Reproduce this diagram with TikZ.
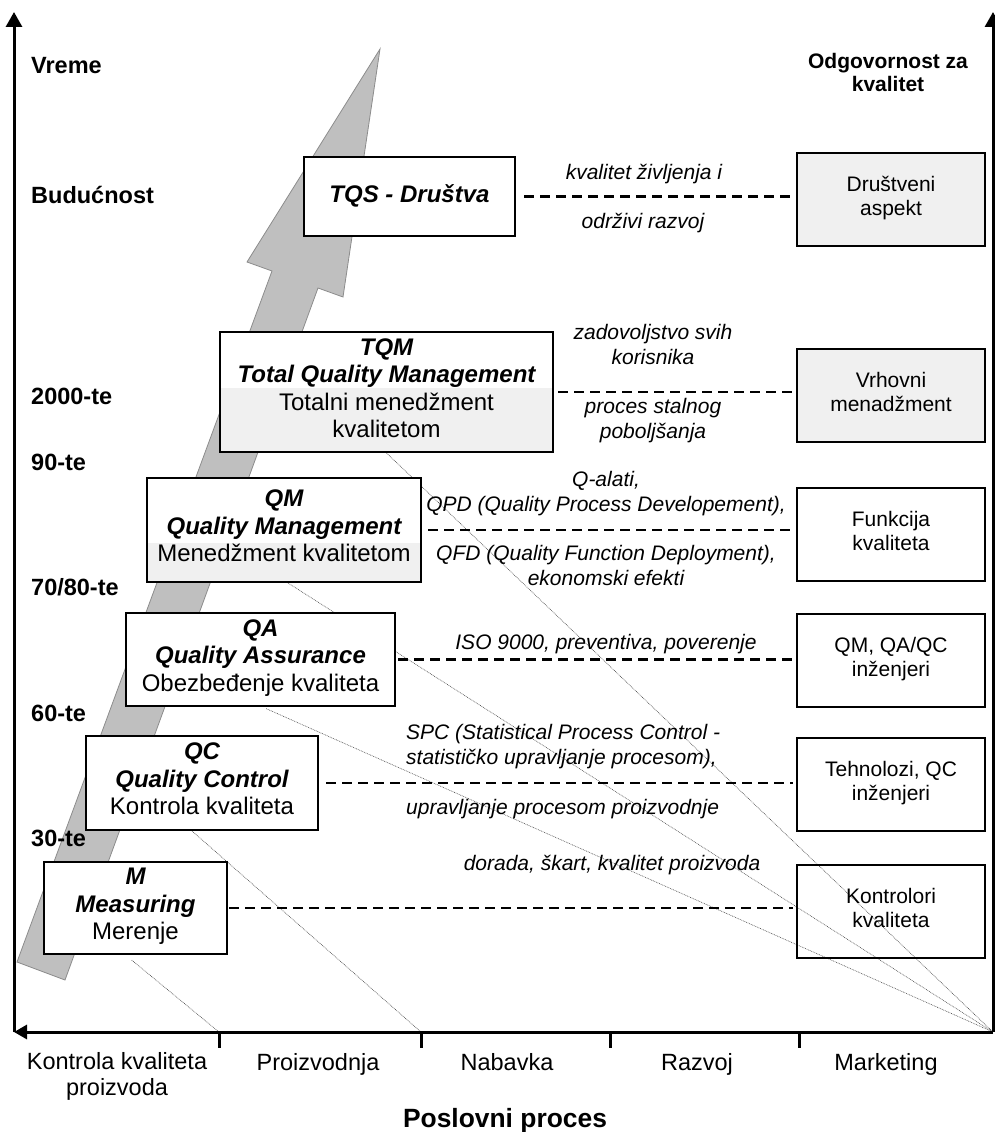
\documentclass[tikz,border=0pt]{standalone}
\usepackage{fontspec}
\setmainfont{Liberation Sans}
\usetikzlibrary{arrows.meta,backgrounds}

\definecolor{bandfill}{gray}{0.75}
\definecolor{banddraw}{gray}{0.55}
\definecolor{softfill}{gray}{0.94}
\definecolor{guide}{gray}{0.3}

\newcommand\eratitle[1]{{\bfseries\itshape #1}}

\tikzset{
  strutted/.style={execute at begin node=\strut, execute at end node=\strut},
  era/.style={draw, line width=2pt, fill=white, align=center, inner sep=0pt,
    font=\fontsize{24}{27.5}\selectfont, strutted},
  resp/.style={draw, line width=2pt, align=center, inner sep=0pt,
    minimum width=188pt, minimum height=93pt,
    font=\fontsize{21}{24}\selectfont, strutted},
  note/.style={align=center, inner sep=0pt,
    font=\fontsize{21}{25}\selectfont\itshape, strutted},
  year/.style={anchor=west, inner sep=0pt,
    font=\fontsize{23.5}{28}\selectfont\bfseries, strutted},
  proc/.style={align=center, inner sep=0pt,
    font=\fontsize{23.5}{26}\selectfont, strutted},
  link/.style={dash pattern=on 10pt off 6pt, line width=2.2pt, shorten >=3pt},
  guideline/.style={guide, line width=0.6pt, dash pattern=on 0.8pt off 0.9pt},
  axis/.style={line width=3pt},
  lower fill/.style={path picture={\fill[softfill]
    (path picture bounding box.south west) rectangle
    ([yshift=#1]path picture bounding box.south east);}},
}

\begin{document}
\begin{tikzpicture}[x=1pt,y=-1pt]
\useasboundingbox (0,0) rectangle (995,1132);

% axes
\coordinate (o) at (14,1032);
\coordinate (ytop) at (14,12);
\coordinate (cr) at (993,1032);
\coordinate (crtop) at (993,12);
\draw[axis, -{Triangle[length=15pt,width=16pt]}] (o) -- (ytop);
\draw[axis, -{Triangle[length=15pt,width=16pt]}] (cr) -- (crtop);
\draw[axis, -{Triangle[length=13pt,width=14pt]}] (cr) -- (o);
\foreach \x [count=\i] in {219,421,610,799} {
  \coordinate (t\i) at (\x,1032);
  \draw[axis] (t\i) -- ++(0,16);
}

% time labels
\node[year] (yv) at (31,68) {Vreme};
\node[year] (yb) at (31,198) {Budućnost};
\node[year] (y2000) at (31,399) {2000-te};
\node[year] (y90) at (31,465) {90-te};
\node[year] (y7080) at (31,590) {70/80-te};
\node[year] (y60) at (31,716) {60-te};
\node[year] (y30) at (31,841) {30-te};

\node[align=center, inner sep=0pt, font=\fontsize{21}{23}\selectfont\bfseries, strutted]
  (hdr) at (888,76) {Odgovornost za\\kvalitet};

% business process labels
\node[proc] (p1) at (117,1078) {Kontrola kvaliteta\\proizvoda};
\node[proc] (p2) at (318,1065) {Proizvodnja};
\node[proc] (p3) at (507,1065) {Nabavka};
\node[proc] (p4) at (697,1065) {Razvoj};
\node[proc] (p5) at (886,1065) {Marketing};
\node[inner sep=0pt, font=\fontsize{26.4}{30}\selectfont\bfseries, strutted]
  (bp) at (505,1121.5) {Poslovni proces};

% stages of quality development
\node[era, minimum width=211pt, minimum height=79pt] (tqs) at (409.5,196.5)
  {\eratitle{TQS - Društva}};
\node[era, lower fill=64pt, minimum width=333pt, minimum height=120pt] (tqm) at (386.5,392)
  {\eratitle{TQM}\\\eratitle{Total Quality Management}\\Totalni menedžment\\kvalitetom};
\node[era, lower fill=39pt, minimum width=274pt, minimum height=104pt] (qm) at (284,530)
  {\eratitle{QM}\\\eratitle{Quality Management}\\Menedžment kvalitetom};
\node[era, minimum width=269pt, minimum height=93pt] (qa) at (260.5,659.5)
  {\eratitle{QA}\\\eratitle{Quality Assurance}\\Obezbeđenje kvaliteta};
\node[era, minimum width=232pt, minimum height=94pt] (qc) at (202,783)
  {\eratitle{QC}\\\eratitle{Quality Control}\\Kontrola kvaliteta};
\node[era, minimum width=183pt, minimum height=92pt] (m) at (135.5,908)
  {\eratitle{M}\\\eratitle{Measuring}\\Merenje};

% responsibility for quality
\node[resp, fill=softfill] (soc) at (891,199) {Društveni\\aspekt};
\node[resp, fill=softfill] (topm) at (891,395.5) {Vrhovni\\menadžment};
\node[resp] (func) at (891,534) {Funkcija\\kvaliteta};
\node[resp] (eng) at (891,660.5) {QM, QA/QC\\inženjeri};
\node[resp] (tech) at (891,784.5) {Tehnolozi, QC\\inženjeri};
\node[resp] (insp) at (891,911.5) {Kontrolori\\kvaliteta};

% links between stage and responsibility
\draw[link] ([xshift=8pt]tqs.east) -- (tqs.east -| soc.west);
\draw[link] ([xshift=4pt]tqm.east) -- (tqm.east -| topm.west);
\draw[link] ([xshift=6pt]qm.east) -- (qm.east -| func.west);
\draw[link] ([xshift=2pt]qa.east) -- (qa.east -| eng.west);
\draw[link] ([xshift=7pt]qc.east) -- (qc.east -| tech.west);
\draw[link] ([xshift=1pt]m.east) -- (m.east -| insp.west);

% link labels
\node[note] (n1) at (644,174.5) {kvalitet življenja i};
\node[note] (n2) at (643,223.5) {održivi razvoj};
\node[note] (n3) at (653,348) {zadovoljstvo svih\\korisnika};
\node[note] (n4) at (653,422.5) {proces stalnog\\poboljšanja};
\node[note] (n5) at (606,495.5) {Q-alati,\\QPD (Quality Process Developement),};
\node[note] (n6) at (606,569) {QFD (Quality Function Deployment),\\ekonomski efekti};
\node[note] (n7) at (606,644.5) {ISO 9000, preventiva, poverenje};
\node[note, align=left, anchor=west] (n8) at (406,748)
  {SPC (Statistical Process Control -\\statističko upravljanje procesom),};
\node[note, anchor=west] (n9) at (406,809.5) {upravljanje procesom proizvodnje};
\node[note] (n10) at (612,865.5) {dorada, škart, kvalitet proizvoda};

\begin{scope}[on background layer]
  % time arrow
  \filldraw[fill=bandfill, draw=banddraw, line width=0.8pt]
    (380,49) -- (343,297) -- (318,288) -- (65,980) -- (17,962)
    -- (272,271) -- (247,262) -- cycle;
  % guide lines to the business process axis
  \draw[guideline] (tqm.south) -- (cr);
  \draw[guideline] ([xshift=4pt]qm.south) -- (cr);
  \draw[guideline, shorten <=4pt] ([xshift=2pt]qa.south) -- (cr);
  \draw[guideline] ([xshift=-10pt]qc.south) -- (t2);
  \draw[guideline, shorten <=8pt] ([xshift=-10pt]m.south) -- (t1);
\end{scope}
\end{tikzpicture}
\end{document}
